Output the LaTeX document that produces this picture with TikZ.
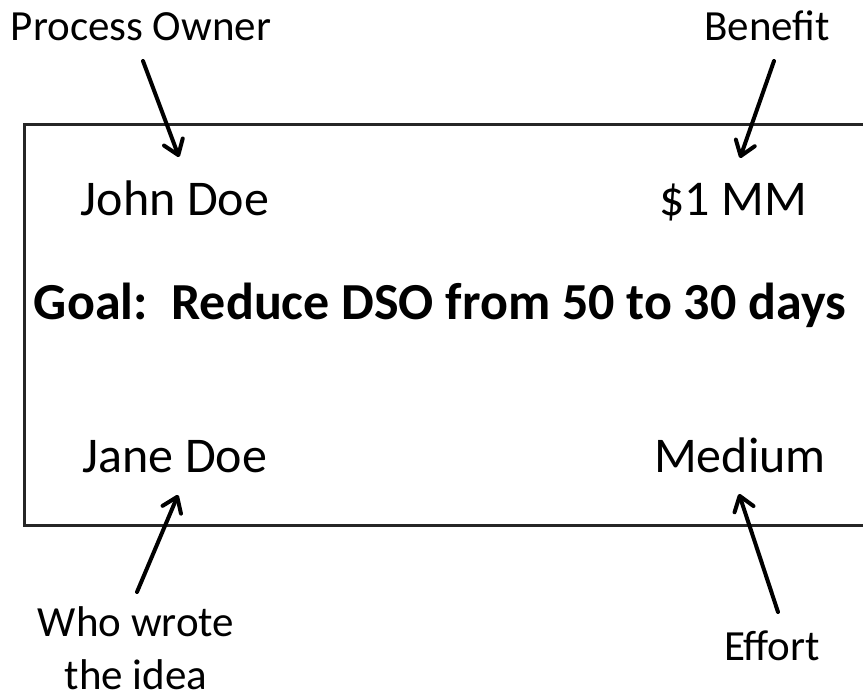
\documentclass[tikz,border=0pt]{standalone}
\usepackage{fontspec}
\setmainfont{Carlito}
\usetikzlibrary{arrows.meta}
\definecolor{boxline}{HTML}{262626}
\tikzset{
  lbl/.style={anchor=base, inner sep=0pt, font=\fontsize{43}{53}\selectfont, align=center},
  body/.style={anchor=base, inner sep=0pt, font=\fontsize{50}{60}\selectfont},
  goal/.style={anchor=base, inner sep=0pt, font=\fontsize{52}{60}\selectfont\bfseries},
  pointer/.style={line width=4pt, black, line cap=round, -{Straight Barb[length=14pt, width=20pt, line cap=round, line join=round]}}
}
\begin{document}
\begin{tikzpicture}[x=1pt, y=1pt]
\clip (0,0) rectangle (863,-695);
\fill[white] (0,0) rectangle (863,-695);
% main box (right edge beyond picture)
\draw[boxline, line width=3pt] (24,-125) rectangle (900,-525);
% labels
\node[lbl] (owner) at (141,-41) {Process Owner};
\node[lbl] (benefit) at (767,-41) {Benefit};
\node[lbl] (who) at (136,-689) {Who wrote\\the idea};
\node[lbl] (effort) at (772,-660) {Effort};
% box texts
\node[body] (john) at (175,-216) {John Doe};
\node[body] (money) at (733,-216) {\$1 MM};
\node[goal] (goal) at (440,-320) {Goal:\ \ Reduce DSO from 50 to 30 days};
\node[body] (jane) at (175,-472) {Jane Doe};
\node[body] (medium) at (740,-472) {Medium};
% arrow ends
\coordinate (a1s) at (143,-61);
\coordinate (a1e) at (179,-157);
\coordinate (a2s) at (774,-61);
\coordinate (a2e) at (740,-158);
\coordinate (a3s) at (137,-592);
\coordinate (a3e) at (178,-495);
\coordinate (a4s) at (778,-612);
\coordinate (a4e) at (739,-494);
\draw[pointer] (a1s) -- (a1e);
\draw[pointer] (a2s) -- (a2e);
\draw[pointer] (a3s) -- (a3e);
\draw[pointer] (a4s) -- (a4e);
\end{tikzpicture}
\end{document}
